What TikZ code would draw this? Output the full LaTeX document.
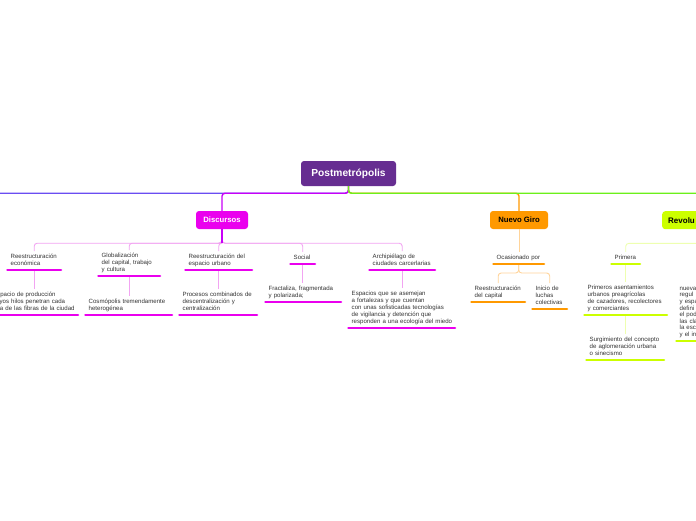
\documentclass[tikz,border=0pt]{standalone}
\usepackage{fontspec}
\setmainfont{Liberation Sans}
\newcommand\ml[1]{\mbox{#1}}
\definecolor{rootc}{HTML}{662D91}
\definecolor{magc}{HTML}{EA00EE}
\definecolor{magline}{HTML}{C800F8}
\definecolor{pinkl}{HTML}{F2A4F2}
\definecolor{bluel}{HTML}{6A4DF2}
\definecolor{greenl}{HTML}{6CF01A}
\definecolor{orc}{HTML}{FF9900}
\definecolor{orl}{HTML}{FFD49A}
\definecolor{yc}{HTML}{CCFF00}
\definecolor{yl}{HTML}{EEFFB0}
\definecolor{txtg}{HTML}{333333}
\begin{document}
\begin{tikzpicture}[x=1pt,y=-1pt,
  mainbox/.style={rounded corners=3pt, inner sep=0pt, minimum height=18pt, font=\fontsize{7.7}{9}\selectfont\bfseries},
  sub/.style={anchor=south west, align=left, inner xsep=4.5pt, inner ysep=2.4pt,
    font=\fontsize{6.1}{6.9}\selectfont, text=txtg,
    execute at begin node=\strut, execute at end node=\strut},
  ulm/.style={line width=2.6pt, line cap=round, magc},
  ulo/.style={line width=2.6pt, line cap=round, orc},
  uly/.style={line width=2.6pt, line cap=round, yc},
  conn/.style={line width=1.4pt, rounded corners=3pt},
  subc/.style={line width=0.9pt, rounded corners=3pt}]
\fill[white] (0,0) rectangle (696,520);
\useasboundingbox (0,0) rectangle (696,520);

% main nodes
\node[mainbox, fill=rootc, text=white, minimum width=95pt, minimum height=25pt,
  font=\fontsize{10.2}{12}\selectfont\bfseries] (root) at (348.5,173.5) {Postmetrópolis};
\node[mainbox, fill=magc, text=white, minimum width=52pt] (disc) at (222,220) {Discursos};
\node[mainbox, fill=orc, text=black, minimum width=58pt] (ng) at (519,220) {Nuevo Giro};
\node[mainbox, fill=yc, text=black, anchor=north west, minimum width=92pt, text width=80pt,
  align=left, inner xsep=6pt, font=\fontsize{8}{9}\selectfont\bfseries] (rev) at (662,211) {Revolu};
\coordinate (lefthub) at (-40,211);

% main connectors
\draw[conn, bluel] (root.south) -- ++(0,7) -| (lefthub);
\draw[conn, magline] (root.south) -- ++(0,7) -| (disc.north);
\draw[conn, orc] (root.south) -- ++(0,7) -| (ng.north);
\draw[conn, greenl] (root.south) -- ++(0,7) -| (rev.north);

% Discursos subtopics
\node[sub, text width=47pt] (re) at (6,270) {\ml{Reestructuración}\\\ml{económica}};
\node[sub, text width=55pt] (gl) at (97,276) {\ml{Globalización}\\\ml{del capital, trabajo}\\\ml{y cultura}};
\node[sub, text width=60pt] (reu) at (184,270) {\ml{Reestructuración del}\\\ml{espacio urbano}};
\node[sub, text width=18pt] (so) at (289,264) {\ml{Social}};
\node[sub, text width=59pt] (ar) at (368,270) {\ml{Archipiélago de}\\\ml{ciudades carcerlarias}};

\node[sub, text width=81.5pt] (re1) at (-11.5,315) {\ml{Espacio de producción}\\\ml{cuyos hilos penetran cada}\\\ml{una de las fibras de la ciudad}};
\node[sub, text width=80pt] (gl1) at (84,315) {\ml{Cosmópolis tremendamente}\\\ml{heterogénea}};
\node[sub, text width=71pt] (reu1) at (178,315) {\ml{Procesos combinados de}\\\ml{descentralización y}\\\ml{centralización}};
\node[sub, text width=69pt] (so1) at (264,302) {\ml{Fractaliza, fragmentada}\\\ml{y polarizada;}};
\node[sub, text width=100pt] (ar1) at (347,328) {\ml{Espacios que se asemejan}\\\ml{a fortalezas y que cuentan}\\\ml{con unas sofisticadas tecnologías}\\\ml{de vigilancia y detención que}\\\ml{responden a una ecología del miedo}};

% Nuevo Giro subtopics
\node[sub, text width=44pt] (oc) at (492,264) {\ml{Ocasionado por}};
\node[sub, text width=47pt] (oc1) at (470,302) {\ml{Reestructuración}\\\ml{del capital}};
\node[sub, text width=28pt] (oc2) at (531,309) {\ml{Inicio de}\\\ml{luchas}\\\ml{colectivas}};

% Revolucion subtopics
\node[sub, text width=22pt] (pr) at (610,264) {\ml{Primera}};
\node[sub, text width=76pt] (pr1) at (583,315) {\ml{Primeros asentamientos}\\\ml{urbanos preagrícolas}\\\ml{de cazadores, recolectores}\\\ml{y comerciantes}};
\node[sub, text width=71pt] (pr2) at (585,360) {\ml{Surgimiento del concepto}\\\ml{de aglomeración urbana}\\\ml{o sinecismo}};
\node[sub, text width=76pt, font=\fontsize{6.1}{6.6}\selectfont] (nu) at (675,341) {\ml{nueva}\\\ml{regul}\\\ml{y espa}\\\ml{defini}\\\ml{el pod}\\\ml{las cla}\\\ml{la esc}\\\ml{y el in}};

% sub connectors: Discursos
\foreach \n in {re,gl,reu,so,ar}
  \draw[subc, pinkl] (disc.south) -- ++(0,14) -| (\n.north);
\draw[line width=1.3pt, magline] (disc.south) -- ++(0,14);
\foreach \a/\b in {re/re1,gl/gl1,reu/reu1,so/so1,ar/ar1}
  \draw[subc, pinkl] (\a.south) -- (\a.south |- \b.north);

% sub connectors: Nuevo Giro
\draw[subc, orl] (ng.south) -- (ng.south |- oc.north);
\foreach \n in {oc1,oc2}
  \draw[subc, orl] (oc.south) -- ++(0,9) -| (\n.north);

% sub connectors: Revolucion
\draw[subc, yl] (rev.south) -- ++(0,14) -| (pr.north);
\draw[subc, yl] (pr.south) -- (pr.south |- pr1.north);
\draw[subc, yl] (pr1.south) -- (pr1.south |- pr2.north);

% underlines
\foreach \n in {re,gl,reu,so,ar,re1,gl1,reu1,so1,ar1}
  \draw[ulm] ([xshift=1.4pt]\n.south west) -- ([xshift=-1.4pt]\n.south east);
\foreach \n in {oc,oc1,oc2}
  \draw[ulo] ([xshift=1.4pt]\n.south west) -- ([xshift=-1.4pt]\n.south east);
\foreach \n in {pr,pr1,pr2,nu}
  \draw[uly] ([xshift=1.4pt]\n.south west) -- ([xshift=-1.4pt]\n.south east);
\end{tikzpicture}
\end{document}
